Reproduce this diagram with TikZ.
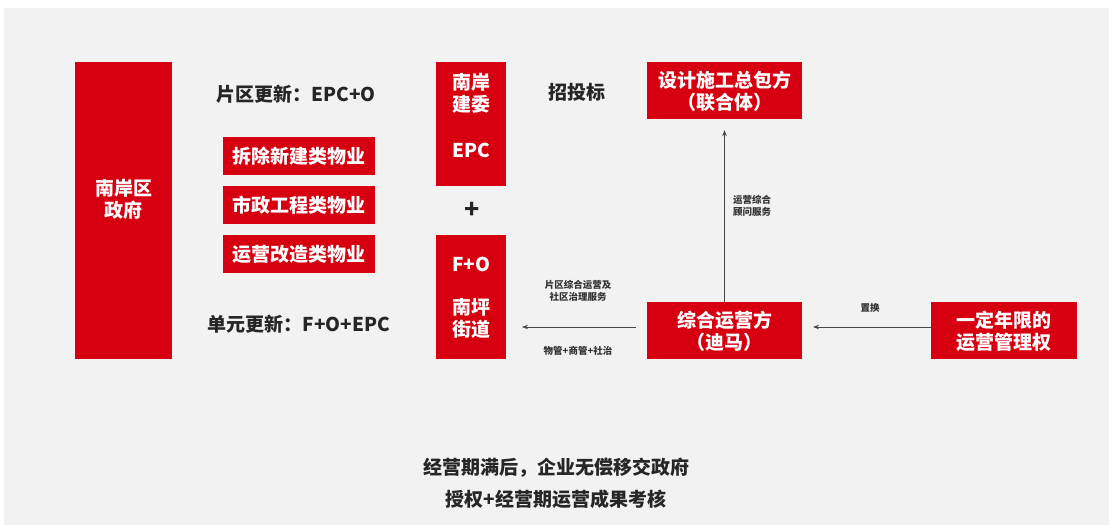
\documentclass[tikz,border=0pt]{standalone}
\usepackage{fontspec}
\setmainfont{Noto Sans CJK SC}
\usetikzlibrary{arrows.meta}
\definecolor{brand}{RGB}{214,0,16}
\definecolor{bggrey}{RGB}{242,242,242}
\definecolor{linegrey}{RGB}{70,70,70}
\tikzset{
  redbox/.style={draw=none, fill=brand, inner sep=0pt},
  wtxt/.style={text=white, font=\bfseries\fontsize{19}{22}\selectfont, align=center, inner sep=0pt},
  btxt/.style={text=black!85, font=\bfseries\fontsize{19}{22}\selectfont, align=center, inner sep=0pt},
  smalltxt/.style={text=black!80, font=\bfseries\fontsize{9.5}{12}\selectfont, align=center, inner sep=0pt},
  conn/.style={draw=linegrey, line width=0.9pt, -{Stealth[length=6pt,width=4.5pt]}},
}
\begin{document}
\begin{tikzpicture}[x=1pt,y=-1pt]
\useasboundingbox (0,0) rectangle (1109,525);
\fill[white] (0,0) rectangle (1109,525);
\fill[bggrey] (4,8) rectangle (1109,525);
% left government column
\node[redbox, minimum width=97pt, minimum height=297pt] (gov) at (123.5,210.5) {};
\node[wtxt] (govt) at (123.5,199) {南岸区\\政府};
% left headings
\node[btxt] (pq) at (296,94) {片区更新：EPC+O};
\node[btxt] (dy) at (299,324) {单元更新：F+O+EPC};
% three property boxes
\node[redbox, minimum width=152pt, minimum height=38pt] (b1) at (299,156) {};
\node[wtxt] at (b1) {拆除新建类物业};
\node[redbox, minimum width=152pt, minimum height=38pt] (b2) at (299,205) {};
\node[wtxt] at (b2) {市政工程类物业};
\node[redbox, minimum width=152pt, minimum height=38pt] (b3) at (299,254) {};
\node[wtxt] at (b3) {运营改造类物业};
% EPC column box
\node[redbox, minimum width=70pt, minimum height=124pt] (epc) at (471,124) {};
\node[wtxt] (epct) at (471,93) {南岸\\建委};
\node[wtxt] (epcl) at (471,150) {EPC};
\node[btxt, font=\bfseries\fontsize{25}{25}\selectfont] (plus) at (472,210) {+};
% F+O column box
\node[redbox, minimum width=70pt, minimum height=124pt] (fo) at (471,297) {};
\node[wtxt] (fol) at (471,264) {F+O};
\node[wtxt] (fot) at (471,318) {南坪\\街道};
% tender
\node[btxt] (zb) at (577,92) {招投标};
\node[redbox, minimum width=155pt, minimum height=57pt] (des) at (724.5,90.5) {};
\node[wtxt] at (724.5,91) {设计施工总包方\\（联合体）};
% operator
\node[redbox, minimum width=155pt, minimum height=57pt] (op) at (724.5,330.5) {};
\node[wtxt] at (724.5,331) {综合运营方\\（迪马）};
% rights
\node[redbox, minimum width=146pt, minimum height=57pt] (rt) at (1004,330.5) {};
\node[wtxt] at (1004,331) {一定年限的\\运营管理权};
% connectors
\draw[conn] (op.north) -- ([yshift=-11pt]des.south);
\node[smalltxt, align=left, anchor=west] (lbl1) at (733,206) {运营综合\\顾问服务};
\coordinate (r1) at (rt.west |- 0,327);
\coordinate (r2) at (813,327);
\draw[conn] (r1) -- (r2);
\node[smalltxt] (lbl2) at (870,308) {置换};
\coordinate (l1) at (636,327);
\coordinate (l2) at (522,327);
\draw[conn] (l1) -- (l2);
\node[smalltxt] (lbl3) at (578,291) {片区综合运营及\\社区治理服务};
\node[smalltxt] (lbl4) at (578,351) {物管+商管+社治};
% bottom text
\node[btxt] (bt1) at (556,468) {经营期满后，企业无偿移交政府};
\node[btxt] (bt2) at (556,499) {授权+经营期运营成果考核};
\end{tikzpicture}
\end{document}
